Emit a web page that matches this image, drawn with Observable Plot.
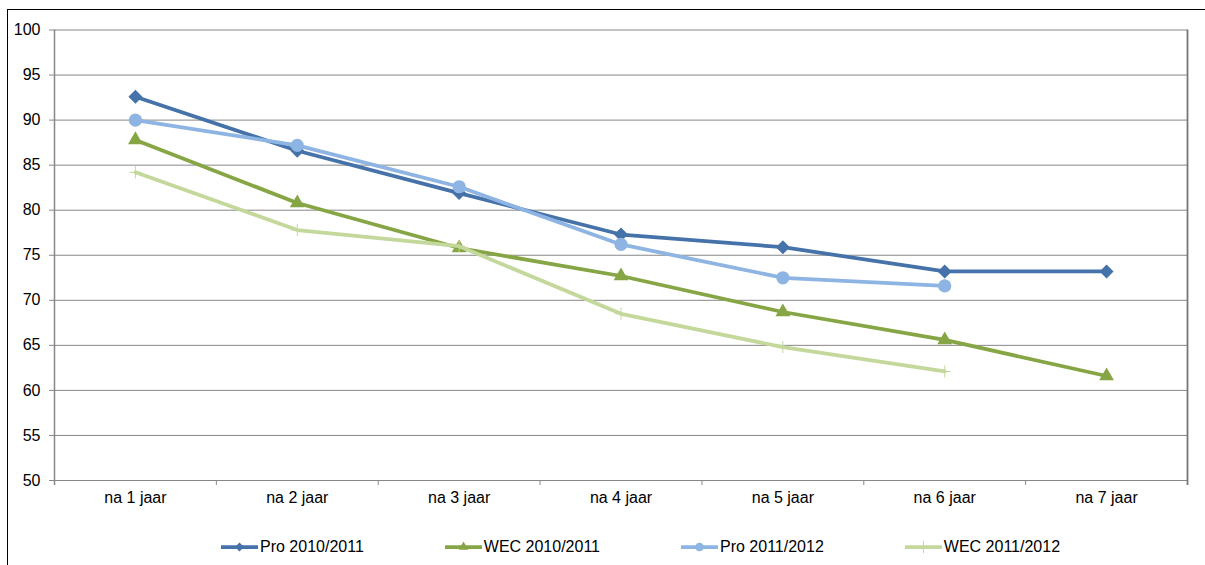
<!DOCTYPE html>
<html>
<head>
<meta charset="utf-8">
<script src="https://cdn.jsdelivr.net/npm/d3@7"></script>
<script src="https://cdn.jsdelivr.net/npm/@observablehq/plot@0.6"></script>
<style>
  html, body { margin: 0; padding: 0; background: #fff; }
  body { font-family: "Liberation Sans", Arial, sans-serif; }
  #wrap { position: relative; width: 1205px; height: 565px; overflow: hidden; }
  #frame { position: absolute; left: 7px; top: 9px; width: 1400px; height: 800px;
           border-left: 1.5px solid #000; border-top: 1.5px solid #000; pointer-events: none; }
  #chart svg { display: block; }
  #legend { display: flex; align-items: center; margin-top: 16px; margin-left: 221px; height: 18px;
            font-size: 16px; color: #000; gap: 81px; white-space: nowrap; }
  .item { display: flex; align-items: center; gap: 2px; }
  .item svg { display: block; }
</style>
</head>
<body>
<div id="wrap">
  <div id="chart"></div>
  <div id="legend"></div>
  <div id="frame"></div>
</div>
<script>
// ---- data ----
const categories = ["na 1 jaar", "na 2 jaar", "na 3 jaar", "na 4 jaar", "na 5 jaar", "na 6 jaar", "na 7 jaar"];
const pro1011 = [92.6, 86.6, 81.9, 77.3, 75.9, 73.2, 73.2];
const wec1011 = [87.8, 80.8, 75.8, 72.7, 68.7, 65.6, 61.6];
const pro1112 = [90.0, 87.2, 82.6, 76.2, 72.5, 71.6, null];
const wec1112 = [84.2, 77.8, 76.0, 68.5, 64.8, 62.1, null];
const seriesNames = ["Pro 2010/2011", "WEC 2010/2011", "Pro 2011/2012", "WEC 2011/2012"];
const yTicks = [50, 55, 60, 65, 70, 75, 80, 85, 90, 95, 100];

// ---- styles ----
const seriesColors = ["#4672AA", "#86A544", "#8DB4E2", "#C4D89C"];
const seriesSymbols = ["diamond2", "triangle", "circle", "plus"];
const seriesR = [6.3, 5.5, 6.6, 4.0];
const gridColor = "#878787";

const W = 1205, H = 522, ml = 54, mr = 18, mt = 29.5, plotBottom = 480;
const mb = H - plotBottom;
const plotH = plotBottom - mt;
const step = (W - ml - mr) / categories.length;

const allSeries = [pro1011, wec1011, pro1112, wec1112];
const rows = allSeries.map((vals, i) =>
  vals.map((v, j) => ({series: seriesNames[i], cat: categories[j], value: v}))
      .filter(d => d.value != null));

const seriesMarks = [];
rows.forEach((data, i) => {
  seriesMarks.push(Plot.line(data, {x: "cat", y: "value", stroke: seriesColors[i], strokeWidth: 3.75}));
  const isPlus = seriesSymbols[i] === "plus";
  seriesMarks.push(Plot.dot(data, {
    x: "cat", y: "value", symbol: seriesSymbols[i], r: seriesR[i],
    fill: isPlus ? "none" : seriesColors[i],
    stroke: isPlus ? seriesColors[i] : "none",
    strokeWidth: isPlus ? 1 : 0
  }));
});

const chart = Plot.plot({
  width: W, height: H,
  marginLeft: ml, marginRight: mr, marginTop: mt, marginBottom: mb,
  style: {fontFamily: "'Liberation Sans', Arial, sans-serif", fontSize: "16px", color: "#000", background: "transparent"},
  x: {type: "point", domain: categories, padding: 0.5, round: false},
  y: {domain: [50, 100]},
  marks: [
    Plot.ruleY(yTicks, {stroke: gridColor, strokeWidth: 1}),
    Plot.tickX([categories[0]], {dx: -step / 2, stroke: gridColor, strokeWidth: 1.5, insetBottom: -5}),
    Plot.tickX([categories[categories.length - 1]], {dx: step / 2, stroke: "#777", strokeWidth: 1.8, insetBottom: -5}),
    Plot.tickX(categories.slice(1), {dx: -step / 2, stroke: gridColor, strokeWidth: 1, insetTop: plotH, insetBottom: -5}),
    Plot.axisY(yTicks, {tickSize: 5, tickPadding: 9, stroke: gridColor, fill: "#000", label: null, fontSize: 16}),
    Plot.axisX({tickSize: 0, tickPadding: 11, fill: "#000", label: null, fontSize: 16}),
    ...seriesMarks
  ]
});
document.getElementById("chart").appendChild(chart);

// ---- legend ----
const legendSizes = [50, 40, 60, 50];
const legend = d3.select("#legend");
seriesNames.forEach((name, i) => {
  const item = legend.append("div").attr("class", "item");
  const svg = item.append("svg").attr("width", 37).attr("height", 14);
  svg.append("line").attr("x1", 0).attr("x2", 37).attr("y1", 7).attr("y2", 7)
    .attr("stroke", seriesColors[i]).attr("stroke-width", 3.75);
  const symMap = {diamond2: d3.symbolDiamond2, triangle: d3.symbolTriangle, circle: d3.symbolCircle, plus: d3.symbolPlus};
  const isPlus = seriesSymbols[i] === "plus";
  svg.append("path").attr("transform", "translate(18.5,7)")
    .attr("d", d3.symbol(symMap[seriesSymbols[i]], legendSizes[i])())
    .attr("fill", isPlus ? "none" : seriesColors[i])
    .attr("stroke", isPlus ? seriesColors[i] : "none");
  item.append("span").text(name);
});
</script>
</body>
</html>
